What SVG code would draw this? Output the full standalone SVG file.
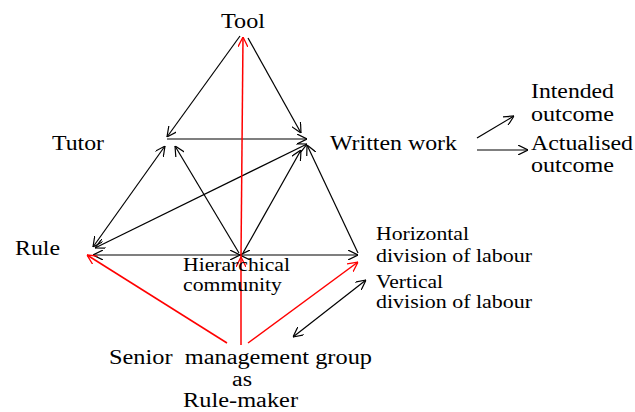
<svg xmlns="http://www.w3.org/2000/svg" width="635" height="412" viewBox="0 0 635 412">
<defs>
<marker id="ab" viewBox="0 0 10 10" refX="10" refY="5" markerWidth="10" markerHeight="10" markerUnits="userSpaceOnUse" orient="auto-start-reverse"><path d="M0,0 L10,5 L0,10" fill="none" stroke="#000" stroke-width="1.2"/></marker>
<marker id="ar" viewBox="0 0 10 10" refX="10" refY="5" markerWidth="10" markerHeight="10" markerUnits="userSpaceOnUse" orient="auto-start-reverse"><path d="M0,0 L10,5 L0,10" fill="none" stroke="#f00" stroke-width="1.3"/></marker>
<style>
text{font-family:'Liberation Serif','Times New Roman',serif;fill:#000}
.t{font-size:20px}
.s{font-size:19px}
.k{stroke:#000;stroke-width:1.2;fill:none}
.k1{marker-end:url(#ab)}
.k2{marker-start:url(#ab);marker-end:url(#ab)}
.r{stroke:#f00;stroke-width:1.5;fill:none;marker-end:url(#ar)}
</style>
</defs>
<rect width="635" height="412" fill="#fff"/>
<g id="connectors">
<line class="k k1" x1="240" y1="36" x2="167" y2="137"/>
<line class="k k1" x1="248" y1="38" x2="301" y2="133"/>
<line class="k k1" x1="167" y1="139" x2="307" y2="139"/>
<line class="k k2" x1="93" y1="247" x2="165" y2="146"/>
<line class="k k2" x1="95" y1="248" x2="307" y2="144"/>
<line class="k k1" x1="239" y1="253" x2="175" y2="146"/>
<line class="k k1" x1="243" y1="253" x2="301" y2="150"/>
<line class="k k2" x1="93" y1="255" x2="240" y2="255"/>
<line class="k k2" x1="240" y1="255" x2="358" y2="255"/>
<line class="k k1" x1="358" y1="253" x2="307" y2="145"/>
<line class="k k1" x1="477" y1="138" x2="514" y2="116"/>
<line class="k k1" x1="477" y1="150" x2="528" y2="150"/>
<line class="k k2" x1="293" y1="337" x2="366" y2="280"/>
<line class="r" x1="227" y1="343" x2="87" y2="255"/>
<line class="r" x1="241" y1="345" x2="241" y2="257"/>
<line class="r" x1="241" y1="257" x2="243" y2="37"/>
<line class="r" x1="248" y1="343" x2="358" y2="262"/>
</g>
<g id="tool" font-family="Liberation Serif"><text class="t" x="221" y="28" textLength="44" lengthAdjust="spacingAndGlyphs">Tool</text></g>
<g id="tutor" font-family="Liberation Serif"><text class="t" x="52" y="150" textLength="52" lengthAdjust="spacingAndGlyphs">Tutor</text></g>
<g id="written-work" font-family="Liberation Serif"><text class="t" x="330" y="150" textLength="127" lengthAdjust="spacingAndGlyphs">Written work</text></g>
<g id="intended-outcome" font-family="Liberation Serif"><text class="t" x="531" y="98" textLength="83" lengthAdjust="spacingAndGlyphs">Intended</text><text class="t" x="531" y="121" textLength="83" lengthAdjust="spacingAndGlyphs">outcome</text></g>
<g id="actualised-outcome" font-family="Liberation Serif"><text class="t" x="531" y="150" textLength="102" lengthAdjust="spacingAndGlyphs">Actualised</text><text class="t" x="531" y="172" textLength="83" lengthAdjust="spacingAndGlyphs">outcome</text></g>
<g id="rule" font-family="Liberation Serif"><text class="t" x="15" y="255" textLength="45" lengthAdjust="spacingAndGlyphs">Rule</text></g>
<g id="hierarchical-community" font-family="Liberation Serif"><text class="s" x="183" y="271" textLength="107" lengthAdjust="spacingAndGlyphs">Hierarchical</text><text class="s" x="183" y="291" textLength="99" lengthAdjust="spacingAndGlyphs">community</text></g>
<g id="horizontal-division" font-family="Liberation Serif"><text class="s" x="376" y="240" textLength="93" lengthAdjust="spacingAndGlyphs">Horizontal</text><text class="s" x="376" y="262" textLength="156" lengthAdjust="spacingAndGlyphs">division of labour</text></g>
<g id="vertical-division" font-family="Liberation Serif"><text class="s" x="376" y="288" textLength="67" lengthAdjust="spacingAndGlyphs">Vertical</text><text class="s" x="376" y="308" textLength="156" lengthAdjust="spacingAndGlyphs">division of labour</text></g>
<g id="senior-management" font-family="Liberation Serif"><text class="t" x="109" y="364" textLength="263" lengthAdjust="spacingAndGlyphs" xml:space="preserve">Senior  management group</text><text class="t" x="232" y="386" textLength="20" lengthAdjust="spacingAndGlyphs">as</text><text class="t" x="183" y="407" textLength="115" lengthAdjust="spacingAndGlyphs">Rule-maker</text></g>
</svg>
